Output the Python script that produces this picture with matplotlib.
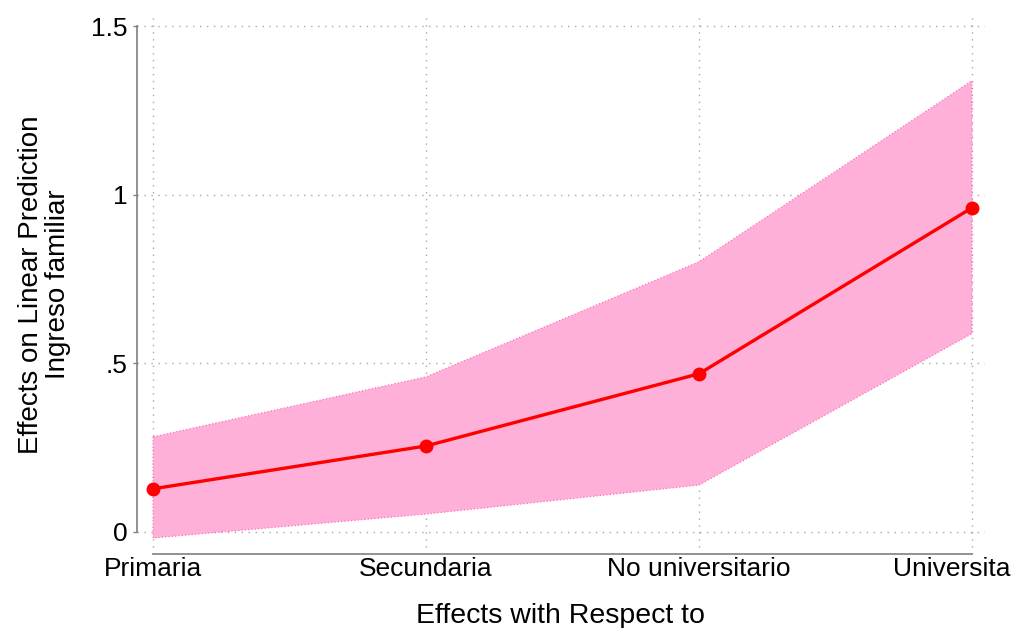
import matplotlib
matplotlib.use("Agg")
import matplotlib.pyplot as plt
from matplotlib.transforms import ScaledTranslation

categories = ["Primaria", "Secundaria", "No universitario", "Universita"]
estimate = [0.128, 0.255, 0.469, 0.961]
ci_upper = [0.282, 0.460, 0.801, 1.338]
ci_lower = [-0.018, 0.053, 0.139, 0.588]
yticks = [0, 0.5, 1, 1.5]
yticklabels = ["0", ".5", "1", "1.5"]

plt.rcParams['font.family'] = ['Liberation Sans', 'DejaVu Sans']

fig = plt.figure(figsize=(10.14, 6.28), dpi=100)
ax = fig.add_axes([137/1014, (628-554)/628, 848/1014, 539/628])

x = list(range(len(categories)))
ax.set_xlim(-16/273, 3 + 13/273)
ax.set_ylim(-22/337, 1.5 + 11/337)

ax.set_yticks(yticks)
ax.set_yticklabels(yticklabels)
ax.set_xticks(x)
ax.set_xticklabels(categories)

ax.grid(True, linestyle=(0, (1, 4)), color="#a8a8a8", linewidth=1.0)
ax.set_axisbelow(True)

ax.fill_between(x, ci_lower, ci_upper, facecolor="#ffb0d8", edgecolor="#ff60b0",
                linestyle=(0, (1, 2)), linewidth=0.8, zorder=2)
ax.plot(x, estimate, color="#ff0000", linewidth=2.4, marker="o", markersize=9,
        zorder=3, clip_on=False)

for s in ["top", "right"]:
    ax.spines[s].set_visible(False)
ax.spines["left"].set_bounds(0, 1.5)
ax.spines["bottom"].set_bounds(0, 3)
for s in ["left", "bottom"]:
    ax.spines[s].set_color("#808080")
    ax.spines[s].set_linewidth(1.2)

ax.tick_params(axis="y", length=3, width=1, color="#808080", pad=4, labelsize=19)
ax.tick_params(axis="x", length=0, pad=2, labelsize=19)

# shift last category label left so it stays inside the figure
last = ax.get_xticklabels()[-1]
last.set_transform(last.get_transform() + ScaledTranslation(-20/100, 0, fig.dpi_scale_trans))

ax.set_xlabel("Effects with Respect to", fontsize=20.5, labelpad=16)
ax.set_ylabel("Effects on Linear Prediction\nIngreso familiar", fontsize=20, labelpad=14,
              linespacing=1.05)

fig.savefig("out.png", dpi=100)
